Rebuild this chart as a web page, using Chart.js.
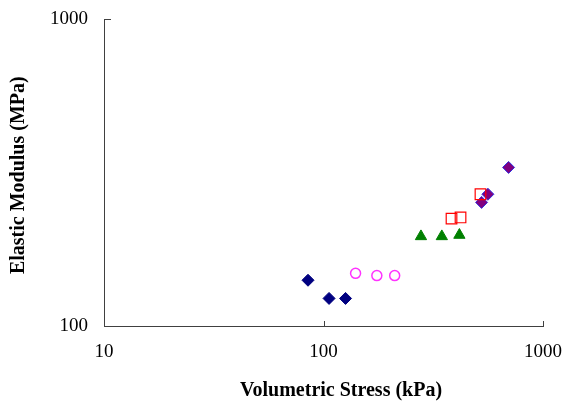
<!DOCTYPE html>
<html><head><meta charset="utf-8">
<script src="https://cdn.jsdelivr.net/npm/chart.js@4/dist/chart.umd.min.js"></script>
<style>html,body{margin:0;padding:0;background:#fff}#wrap{width:565px;height:403px}</style>
</head><body><div id="wrap"><canvas id="c" width="565" height="403"></canvas></div>
<script>
// Data (Volumetric Stress kPa, Elastic Modulus MPa)
const navyX = [85, 106, 126];
const navyY = [141, 123, 123];
const pinkX = [140, 175, 211];
const pinkY = [148.5, 146, 146];
const greenX = [278, 346, 416];
const greenY = [196, 196, 198];
const redX = [383, 421, 519];
const redY = [224, 226, 269];
const purpleX = [525, 561, 697];
const purpleY = [253, 269, 329];
const xTicks = [10, 100, 1000];
const yTicks = [100, 1000];

const pts = (xs, ys) => xs.map((x, i) => ({x: x, y: ys[i]}));

const innerTicks = {
  id: 'innerTicks',
  afterDraw(chart) {
    const ctx = chart.ctx, xs = chart.scales.x, ys = chart.scales.y;
    ctx.save();
    ctx.strokeStyle = '#404040';
    ctx.lineWidth = 1;
    ctx.beginPath();
    xTicks.forEach(v => {
      const px = Math.round(xs.getPixelForValue(v)) + 0.5;
      ctx.moveTo(px, ys.bottom); ctx.lineTo(px, ys.bottom - 5);
    });
    yTicks.forEach(v => {
      const py = Math.round(ys.getPixelForValue(v)) + 0.5;
      ctx.moveTo(xs.left, py); ctx.lineTo(xs.left + 7, py);
    });
    ctx.stroke();
    ctx.restore();
  }
};

new Chart(document.getElementById('c'), {
  type: 'scatter',
  data: {
    datasets: [
      {data: pts(navyX, navyY), pointStyle: 'rectRot', pointRadius: 6, backgroundColor: '#000080', borderColor: '#000080', borderWidth: 1},
      {data: pts(pinkX, pinkY), pointStyle: 'circle', pointRadius: 5, backgroundColor: '#ffffff', borderColor: '#ff33ff', borderWidth: 1.5},
      {data: pts(greenX, greenY), pointStyle: 'triangle', pointRadius: 6.5, backgroundColor: '#008000', borderColor: '#008000', borderWidth: 1},
      {data: pts(redX, redY), pointStyle: 'rect', pointRadius: 7.5, backgroundColor: 'rgba(0,0,0,0)', borderColor: '#ff0000', borderWidth: 1.2},
      {data: pts(purpleX, purpleY), pointStyle: 'rectRot', pointRadius: 6, backgroundColor: '#800080', borderColor: '#3030e0', borderWidth: 1}
    ]
  },
  options: {
    responsive: false,
    animation: false,
    events: [],
    layout: {padding: {left: 0, right: 22, top: 11, bottom: 0}},
    plugins: {legend: {display: false}, tooltip: {enabled: false}},
    scales: {
      x: {
        type: 'logarithmic', min: 10, max: 1000,
        afterBuildTicks: s => { s.ticks = xTicks.map(v => ({value: v})); },
        afterFit: s => { s.height = 77; s.paddingLeft = 0; s.paddingRight = 0; },
        border: {display: true, color: '#404040', width: 1},
        grid: {display: false},
        ticks: {color: '#000', font: {family: 'Liberation Serif', size: 19}, padding: 7, maxRotation: 0, autoSkip: false, callback: v => String(v)},
        title: {display: true, text: '\u00a0\u00a0\u00a0\u00a0\u00a0\u00a0\u00a0Volumetric Stress (kPa)', color: '#000', font: {family: 'Liberation Serif', size: 20, weight: 'bold'}, padding: {top: 0, bottom: 0}}
      },
      y: {
        type: 'logarithmic', min: 100, max: 1000,
        afterBuildTicks: s => { s.ticks = yTicks.map(v => ({value: v})); },
        afterFit: s => { s.width = 104; },
        border: {display: true, color: '#404040', width: 1},
        grid: {display: false},
        ticks: {color: '#000', font: {family: 'Liberation Serif', size: 19}, padding: 8, autoSkip: false, callback: v => String(v)},
        title: {display: true, text: 'Elastic Modulus (MPa)\u00a0', color: '#000', font: {family: 'Liberation Serif', size: 20, weight: 'bold'}, padding: {top: 7, bottom: 0}}
      }
    }
  },
  plugins: [innerTicks]
});
</script>
</body></html>
